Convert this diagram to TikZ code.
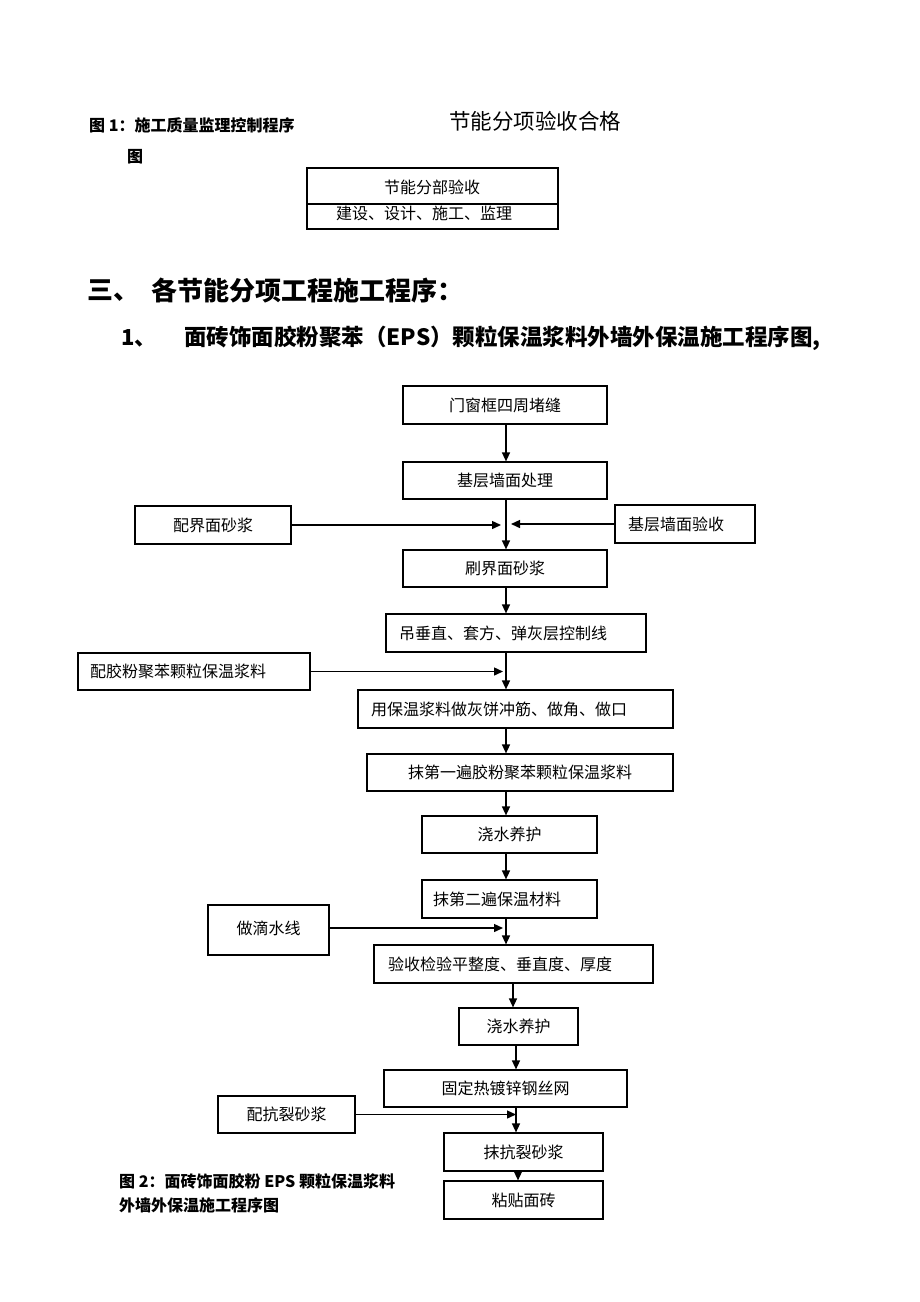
\documentclass[tikz,border=0pt]{standalone}
\usepackage{fontspec}
\setmainfont{Noto Sans CJK SC}
\usetikzlibrary{arrows.meta}
\newcommand\fsz[1]{\fontsize{#1}{#1}\selectfont}
\begin{document}
\begin{tikzpicture}[x=1pt,y=-1pt,
  box/.style={draw,line width=1.2pt,inner sep=0pt,font=\fsz{16}},
  lbox/.style={box,align=left,inner xsep=#1},
  txt/.style={anchor=west,inner sep=0pt},
  arr/.style={line width=1.4pt,-{Triangle[length=9pt,width=8pt]}}]
\useasboundingbox[fill=white] (0,0) rectangle (920,1302);

% top part
\node[txt,font=\bfseries\fsz{16}] (t1) at (89,125) {图 1：施工质量监理控制程序};
\node[txt,font=\bfseries\fsz{16}] (t2) at (127,157) {图};
\node[txt,font=\fsz{21.5}] (t3) at (449,121) {节能分项验收合格};
\node[draw,line width=1.2pt,minimum width=251pt,minimum height=61pt,inner sep=0pt] (tb) at (432.5,198.5) {};
\coordinate (dv) at (0,204);
\draw[line width=1.2pt] (tb.west |- dv) -- (tb.east |- dv);
\node[font=\fsz{16},inner sep=0pt] (tb1) at (432,187) {节能分部验收};
\node[font=\fsz{16},inner sep=0pt] (tb2) at (424,213) {建设、设计、施工、监理};

% headings
\node[txt,font=\bfseries\fsz{26}] (h1) at (87,291) {三、};
\node[txt,font=\bfseries\fsz{26}] (h2) at (151,291) {各节能分项工程施工程序：};
\node[txt,font=\bfseries\fsz{22}] (h3) at (121,338) {1、};
\node[txt,font=\bfseries\fsz{22.5}] (h4) at (184,338) {面砖饰面胶粉聚苯（EPS）颗粒保温浆料外墙外保温施工程序图,};

% flowchart boxes
\node[box,minimum width=204pt,minimum height=38pt] (b1) at (505,405) {门窗框四周堵缝};
\node[box,minimum width=204pt,minimum height=37pt] (b2) at (505,480.5) {基层墙面处理};
\node[box,minimum width=156pt,minimum height=38pt] (s1) at (213,525) {配界面砂浆};
\node[lbox=13pt,text width=114pt,minimum height=38pt] (s2) at (685,524) {基层墙面验收};
\node[box,minimum width=204pt,minimum height=37pt] (b3) at (505,568.5) {刷界面砂浆};
\node[lbox=13pt,text width=234pt,minimum height=38pt] (b4) at (516,633) {吊垂直、套方、弹灰层控制线};
\node[lbox=12pt,text width=208pt,minimum height=37pt] (s3) at (194,671.5) {配胶粉聚苯颗粒保温浆料};
\node[lbox=13pt,text width=289pt,minimum height=38pt] (b5) at (515.5,709) {用保温浆料做灰饼冲筋、做角、做口};
\node[box,minimum width=306pt,minimum height=37pt] (b6) at (520,772.5) {抹第一遍胶粉聚苯颗粒保温浆料};
\node[box,minimum width=175pt,minimum height=37pt] (b7) at (509.5,834.5) {浇水养护};
\node[lbox=11pt,text width=153pt,minimum height=38pt] (b8) at (509.5,899) {抹第二遍保温材料};
\node[box,minimum width=121pt,minimum height=50pt] (s4) at (268.5,930) {\raisebox{4pt}{做滴水线}};
\node[lbox=14pt,text width=251pt,minimum height=38pt] (b9) at (513.5,964) {验收检验平整度、垂直度、厚度};
\node[box,minimum width=119pt,minimum height=37pt] (b10) at (518.5,1026.5) {浇水养护};
\node[box,minimum width=243pt,minimum height=37pt] (b11) at (505.5,1088.5) {固定热镀锌钢丝网};
\node[box,minimum width=137pt,minimum height=37pt] (s5) at (286.5,1114.5) {配抗裂砂浆};
\node[box,minimum width=159pt,minimum height=38pt] (b12) at (523.5,1152) {抹抗裂砂浆};
\node[box,minimum width=159pt,minimum height=38pt] (b13) at (523.5,1200) {粘贴面砖};

% caption
\node[txt,font=\bfseries\fsz{16}] (c1) at (119,1181) {图 2：面砖饰面胶粉 EPS 颗粒保温浆料};
\node[txt,font=\bfseries\fsz{16}] (c2) at (119,1205) {外墙外保温施工程序图};

% trunk x positions
\coordinate (xa) at (506,0);
\coordinate (xb) at (513,0);
\coordinate (xc) at (516,0);
\coordinate (xd) at (518,0);

\draw[arr] (b1.south -| xa) -- (b2.north -| xa);
\draw[arr] (b2.south -| xa) -- (b3.north -| xa);
\draw[arr] (b3.south -| xa) -- (b4.north -| xa);
\draw[arr] (b4.south -| xa) -- (b5.north -| xa);
\draw[arr] (b5.south -| xa) -- (b6.north -| xa);
\draw[arr] (b6.south -| xa) -- (b7.north -| xa);
\draw[arr] (b7.south -| xa) -- (b8.north -| xa);
\draw[arr] (b8.south -| xa) -- (b9.north -| xa);
\draw[arr] (b9.south -| xb) -- (b10.north -| xb);
\draw[arr] (b10.south -| xc) -- (b11.north -| xc);
\draw[arr] (b11.south -| xc) -- (b12.north -| xc);
\draw[arr] (b12.south -| xd) -- (b13.north -| xd);

% side inputs
\draw[arr,shorten >=5pt] (s1.east) -- (s1.east -| xa);
\draw[arr,shorten >=5pt] (s2.west) -- (s2.west -| xa);
\draw[arr,shorten >=3pt] (s3.east) -- (s3.east -| xa);
\draw[arr,shorten >=3pt] ([yshift=2pt]s4.east) -- ([yshift=2pt]s4.east -| xa);
\draw[arr] (s5.east) -- (s5.east -| xc);
\end{tikzpicture}
\end{document}
